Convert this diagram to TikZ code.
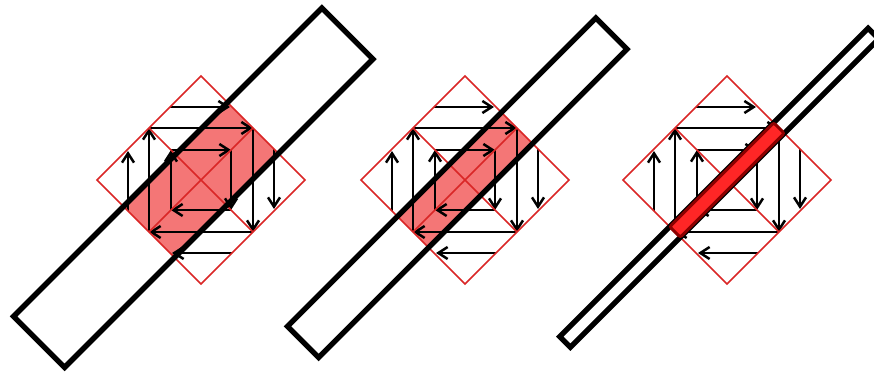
\documentclass[tikz,border=0pt]{standalone}
\usetikzlibrary{arrows.meta}
\definecolor{sqred}{RGB}{218,38,38}
\definecolor{cutred}{RGB}{244,118,118}

\begin{document}
\begin{tikzpicture}[x=0.03cm, y=-0.03cm,
    edge/.style={draw=sqred, line width=0.05cm},
    arr/.style={-{Straight Barb[length=2.8mm,width=3.6mm]}, line width=0.075cm},
    strip/.style={draw, line width=0.16cm, line join=miter},
    blob/.style={draw=red!55!black, fill=red!85, line width=0.09cm, rounded corners=2pt}
]
    \useasboundingbox (0,0) rectangle (874,376);
    \foreach \cx/\w in {201/25.5, 465/15.6, 727/5.3}{
        \begin{scope}[shift={(\cx,180)}]
            % overlap of strip and square
            \fill[cutred] ({52-\w},{-52-\w}) -- ({52+\w},{-52+\w}) -- ({-52+\w},{52+\w}) -- ({-52-\w},{52-\w}) -- cycle;
            % outer ring, cut by the square
            \draw[arr] (-31,-73) -- (29,-73);
            \draw[arr] (73,-31) -- (73,29);
            \draw[arr] (31,73) -- (-29,73);
            \draw[arr] (-73,31) -- (-73,-29);
            % middle and inner rings
            \foreach \d in {52,30}{
                \draw[arr] (-\d,-\d) -- (\d,-\d);
                \draw[arr] (\d,-\d) -- (\d,\d);
                \draw[arr] (\d,\d) -- (-\d,\d);
                \draw[arr] (-\d,\d) -- (-\d,-\d);
            }
            \draw[edge] (0,-104) -- (104,0) -- (0,104) -- (-104,0) -- cycle;
            \draw[edge] (-52,-52) -- (52,52) (-52,52) -- (52,-52);
            \draw[strip] ({146.4-\w},{-146.4-\w}) -- ({146.4+\w},{-146.4+\w}) -- ({-161.9+\w},{161.9+\w}) -- ({-161.9-\w},{161.9-\w}) -- cycle;
        \end{scope}
    }
    % thin strip: overlap drawn on top
    \begin{scope}[shift={(727,180)}]
        \draw[blob] (46.7,-57.3) -- (57.3,-46.7) -- (-46.7,57.3) -- (-57.3,46.7) -- cycle;
    \end{scope}
\end{tikzpicture}
\end{document}
